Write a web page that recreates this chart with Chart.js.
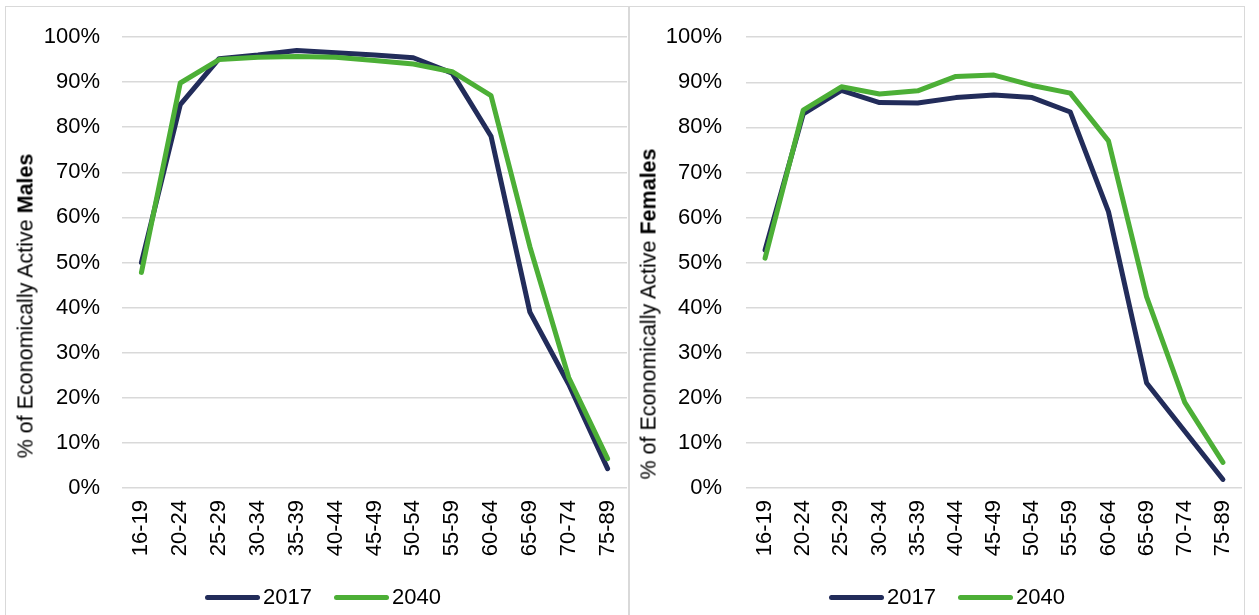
<!DOCTYPE html>
<html>
<head>
<meta charset="utf-8">
<script src="https://cdn.jsdelivr.net/npm/chart.js@4.4.1/dist/chart.umd.min.js"></script>
<style>
    body { margin: 0; background: #fff; width: 1259px; height: 615px; overflow: hidden; position: relative; }
    .frame { position: absolute; top: 6px; height: 620px; border: 1.5px solid #d9d9d9; box-sizing: border-box; }
    canvas { position: absolute; }
    .ytitle {
        position: absolute; white-space: nowrap;
        font-family: 'Liberation Sans', Arial, sans-serif; font-size: 21.5px; color: #000;
        transform: translate(-50%, -50%) rotate(-90deg);
    }
    .legend {
        position: absolute; top: 584px; white-space: nowrap;
        font-family: 'Liberation Sans', Arial, sans-serif;
        font-size: 22px; color: #000;
    }
    .legend span.swatch { display: inline-block; width: 55px; height: 5px; border-radius: 3px; vertical-align: middle; margin-right: 3px; position: relative; top: -1px; }
    .legend span.item { margin-right: 22px; }
</style>
</head>
<body>
<div class="frame" style="left:5px; width:624px;"></div>
<div class="frame" style="left:629px; width:616px;"></div>

<canvas id="malesChart" width="622" height="615" style="left:6px; top:0px;"></canvas>
<canvas id="femalesChart" width="614" height="615" style="left:630px; top:0px;"></canvas>

<div class="ytitle" style="left:26px; top:306px;">% of Economically Active <b>Males</b></div>
<div class="ytitle" style="left:649px; top:314px;">% of Economically Active <b>Females</b></div>

<div class="legend" id="legendMales" style="left:205px;"></div>
<div class="legend" id="legendFemales" style="left:829px;"></div>

<script>
let ageGroups = ['16-19', '20-24', '25-29', '30-34', '35-39', '40-44', '45-49', '50-54', '55-59', '60-64', '65-69', '70-74', '75-89'];

let males2017 = [50, 85, 95.2, 96, 97, 96.5, 96, 95.4, 92, 78, 39, 23, 4.3];
let males2040 = [47.8, 89.8, 95, 95.5, 95.7, 95.5, 94.8, 94, 92.3, 87, 53.5, 24.5, 6.5];

let females2017 = [52.8, 83, 88.2, 85.5, 85.4, 86.6, 87.2, 86.6, 83.4, 61.3, 23.3, 12.6, 1.9];
let females2040 = [51, 83.8, 89, 87.4, 88.1, 91.3, 91.6, 89.3, 87.6, 77, 42.4, 19, 5.7];

let seriesNames = ['2017', '2040'];
let seriesColors = ['#222c5a', '#4caf36'];

let tickFont = { family: "'Liberation Sans', Arial, sans-serif", size: 22 };

function makeChart(canvasId, data2017, data2040, yWidth, yPad, rightPad) {
    let ctx = document.getElementById(canvasId).getContext('2d');
    return new Chart(ctx, {
        type: 'line',
        data: {
            labels: ageGroups,
            datasets: [
                {
                    label: seriesNames[0],
                    data: data2017,
                    borderColor: seriesColors[0],
                    backgroundColor: seriesColors[0],
                    borderWidth: 5,
                    pointRadius: 0,
                    borderCapStyle: 'round',
                    borderJoinStyle: 'round',
                    tension: 0,
                    order: 2
                },
                {
                    label: seriesNames[1],
                    data: data2040,
                    borderColor: seriesColors[1],
                    backgroundColor: seriesColors[1],
                    borderWidth: 5,
                    pointRadius: 0,
                    borderCapStyle: 'round',
                    borderJoinStyle: 'round',
                    tension: 0,
                    order: 1
                }
            ]
        },
        options: {
            responsive: false,
            animation: false,
            layout: { padding: { top: 37, right: rightPad, bottom: 0, left: 0 } },
            plugins: {
                legend: { display: false },
                tooltip: { enabled: false }
            },
            scales: {
                x: {
                    offset: true,
                    grid: { display: false, drawTicks: false },
                    border: { display: false },
                    ticks: {
                        font: tickFont,
                        color: '#000',
                        padding: 12,
                        minRotation: 90,
                        maxRotation: 90,
                        autoSkip: false
                    },
                    afterFit: function (scale) {
                        scale.height = 127;
                        // rotated labels would otherwise shrink the plot on the right
                        scale.paddingLeft = 0;
                        scale.paddingRight = 0;
                    }
                },
                y: {
                    min: 0,
                    max: 100,
                    grid: { color: '#d9d9d9', lineWidth: 1.5, drawTicks: false },
                    border: { display: false },
                    ticks: {
                        stepSize: 10,
                        font: tickFont,
                        color: '#000',
                        padding: yPad,
                        callback: v => v + '%'
                    },
                    afterFit: function (scale) { scale.width = yWidth; }
                }
            }
        }
    });
}

function buildLegend(id) {
    let el = document.getElementById(id);
    el.innerHTML = seriesNames.map((name, i) =>
        `<span class="item"><span class="swatch" style="background:${seriesColors[i]}"></span>${name}</span>`
    ).join('');
}

makeChart('malesChart', males2017, males2040, 116, 22, 1);
makeChart('femalesChart', females2017, females2040, 116, 24, 2);
buildLegend('legendMales');
buildLegend('legendFemales');
</script>
</body>
</html>
